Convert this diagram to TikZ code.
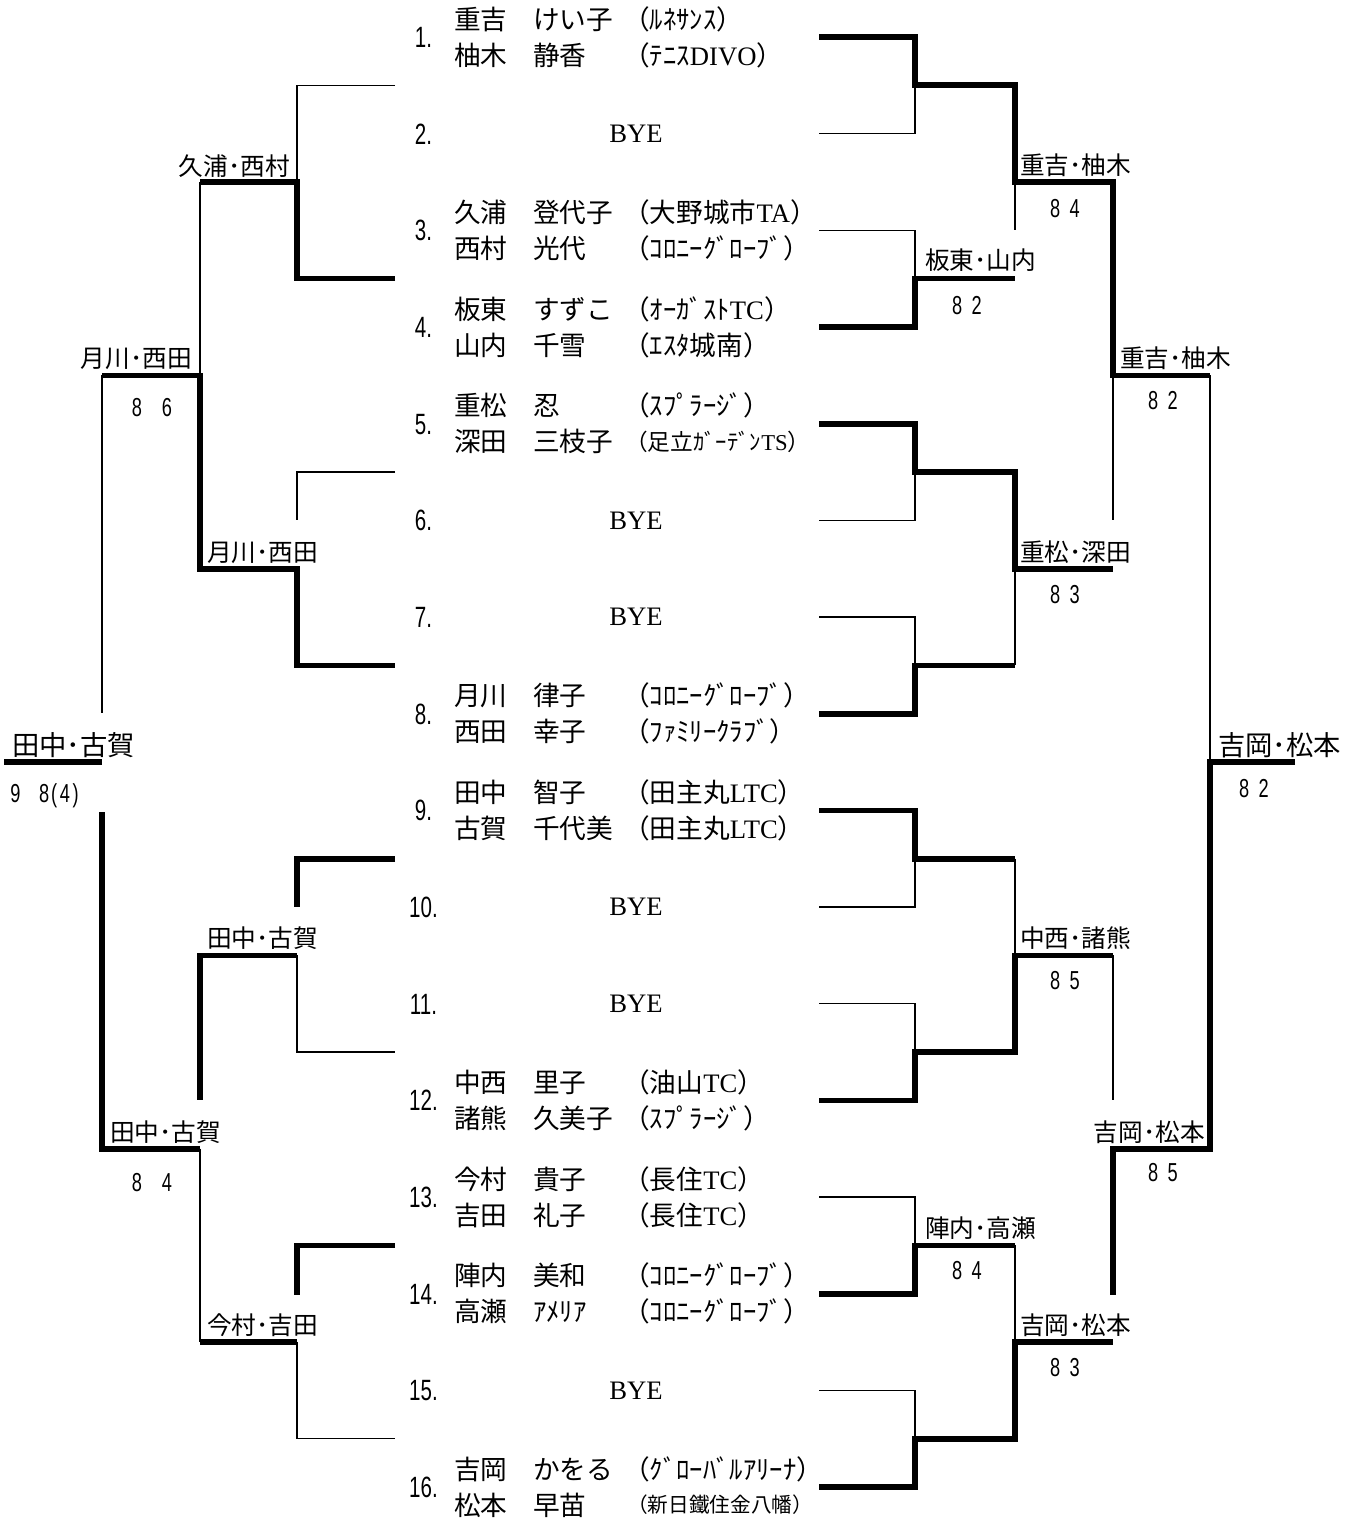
\documentclass[tikz,border=0pt]{standalone}
\usepackage{fontspec}
\setmainfont{Liberation Serif}
\newfontfamily\jp{Noto Sans CJK JP}
\newfontfamily\nsans[FakeStretch=0.7]{Liberation Sans}
\newcommand\lat[1]{{\rmfamily #1}}
\newcommand\cl[1]{（#1）}
\tikzset{
  thk/.style={line width=4.2pt, line join=miter},
  thn/.style={line width=0.8pt},
  nm/.style={font=\jp\fontsize{20}{22}\selectfont, inner sep=0pt, anchor=west, text height=17.6pt, text depth=2.4pt},
  nmsmall/.style={nm, font=\jp\fontsize{17}{19}\selectfont, text height=15pt, text depth=2pt},
  nmtiny/.style={nm, font=\jp\fontsize{15.5}{17}\selectfont, text height=13.6pt, text depth=1.9pt},
  byetxt/.style={font=\rmfamily\fontsize{20}{22}\selectfont, inner sep=0pt, text height=13.2pt, text depth=0pt},
  num/.style={font=\nsans\fontsize{22}{24}\selectfont, inner sep=0pt, text height=15.75pt, text depth=0pt},
  lbl/.style={font=\jp\fontsize{18.5}{20}\selectfont, inner sep=0pt, text height=16.3pt, text depth=2.2pt},
  biglbl/.style={font=\jp\fontsize{20.5}{22}\selectfont, inner sep=0pt, text height=18pt, text depth=2.5pt},
  scr/.style={font=\nsans\fontsize{19.5}{21}\selectfont, inner sep=0pt, text height=14pt, text depth=0pt},
}
% #1 index, #2 y, #3 surname1, #4 given1, #5 club1, #6 surname2, #7 given2, #8 club2
\newcommand\pairentry[8]{%
  \node[num] (num#1) at (423.5,#2) {#1.};
  \node[nm] (sa#1) at (454,#2-18) {#3};
  \node[nm] (ga#1) at (533,#2-18) {#4};
  \node[nm] (ca#1) at (623,#2-18) {#5};
  \node[nm] (sb#1) at (454,#2+18) {#6};
  \node[nm] (gb#1) at (533,#2+18) {#7};
  \node[nm] (cb#1) at (623,#2+18) {#8};
}
\newcommand\byeentry[2]{%
  \node[num] (num#1) at (423.5,#2) {#1.};
  \node[byetxt] (bye#1) at (636,#2) {BYE};
}
\begin{document}
\begin{tikzpicture}[x=0.75pt,y=-0.75pt]
\useasboundingbox (0,0) rectangle (1361,1519);

% ---------------- entries ----------------
\pairentry{1}{37}{重吉}{けい子}{\cl{ﾙﾈｻﾝｽ}}{柚木}{静香}{\cl{ﾃﾆｽ\lat{DIVO}}}
\byeentry{2}{133.7}
\pairentry{3}{230.3}{久浦}{登代子}{\cl{大野城市\lat{TA}}}{西村}{光代}{\cl{ｺﾛﾆｰｸﾞﾛｰﾌﾞ}}
\pairentry{4}{327}{板東}{すずこ}{\cl{ｵｰｶﾞｽﾄ\lat{TC}}}{山内}{千雪}{\cl{ｴｽﾀ城南}}
\node[num] (num5) at (423.5,423.7) {5.};
\node[nm] (sa5) at (454,405.7) {重松};
\node[nm] (ga5) at (533,405.7) {忍};
\node[nm] (ca5) at (623,405.7) {\cl{ｽﾌﾟﾗｰｼﾞ}};
\node[nm] (sb5) at (454,441.7) {深田};
\node[nm] (gb5) at (533,441.7) {三枝子};
\node[nmsmall] (cb5) at (625,441.7) {\cl{足立ｶﾞｰﾃﾞﾝ\lat{TS}}};
\byeentry{6}{520.3}
\byeentry{7}{617}
\pairentry{8}{713.7}{月川}{律子}{\cl{ｺﾛﾆｰｸﾞﾛｰﾌﾞ}}{西田}{幸子}{\cl{ﾌｧﾐﾘｰｸﾗﾌﾞ}}
\pairentry{9}{810.3}{田中}{智子}{\cl{田主丸\lat{LTC}}}{古賀}{千代美}{\cl{田主丸\lat{LTC}}}
\byeentry{10}{907}
\byeentry{11}{1003.7}
\pairentry{12}{1100.3}{中西}{里子}{\cl{油山\lat{TC}}}{諸熊}{久美子}{\cl{ｽﾌﾟﾗｰｼﾞ}}
\pairentry{13}{1197}{今村}{貴子}{\cl{長住\lat{TC}}}{吉田}{礼子}{\cl{長住\lat{TC}}}
\pairentry{14}{1293.7}{陣内}{美和}{\cl{ｺﾛﾆｰｸﾞﾛｰﾌﾞ}}{高瀬}{ｱﾒﾘｱ}{\cl{ｺﾛﾆｰｸﾞﾛｰﾌﾞ}}
\byeentry{15}{1390.3}
\node[num] (num16) at (423.5,1487) {16.};
\node[nm] (sa16) at (454,1469) {吉岡};
\node[nm] (ga16) at (533,1469) {かをる};
\node[nm] (ca16) at (623,1469) {\cl{ｸﾞﾛｰﾊﾞﾙｱﾘｰﾅ}};
\node[nm] (sb16) at (454,1505) {松本};
\node[nm] (gb16) at (533,1505) {早苗};
\node[nmtiny] (cb16) at (627,1505) {\cl{新日鐵住金八幡}};

% ---------------- right bracket ----------------
\draw[thk] (819,37) -- (915,37) -- (915,85.3) -- (1015,85.3) -- (1015,182) -- (1113,182) -- (1113,375.3) -- (1210,375.3);
\draw[thn] (819,133.7) -- (915,133.7) -- (915,85.3);
\draw[thn] (1015,182) -- (1015,230);
\draw[thn] (819,230.3) -- (915,230.3) -- (915,278.7);
\draw[thk] (819,327) -- (915,327) -- (915,278.7) -- (1015,278.7);
\draw[thn] (1113,375.3) -- (1113,520);
\draw[thn] (1210,375.3) -- (1210,762);
\draw[thk] (819,423.7) -- (915,423.7) -- (915,472) -- (1015,472) -- (1015,568.7) -- (1113,568.7);
\draw[thn] (819,520.3) -- (915,520.3) -- (915,472);
\draw[thn] (819,617) -- (915,617) -- (915,665.3);
\draw[thk] (819,713.7) -- (915,713.7) -- (915,665.3) -- (1015,665.3);
\draw[thn] (1015,665.3) -- (1015,568.7);
\draw[thk] (1295,762) -- (1210,762) -- (1210,1148.7) -- (1113,1148.7) -- (1113,1295);
\draw[thk] (819,810.3) -- (915,810.3) -- (915,858.7) -- (1015,858.7);
\draw[thn] (819,907) -- (915,907) -- (915,858.7);
\draw[thn] (1015,858.7) -- (1015,955.3);
\draw[thn] (819,1003.7) -- (915,1003.7) -- (915,1052);
\draw[thk] (819,1100.3) -- (915,1100.3) -- (915,1052) -- (1015,1052) -- (1015,955.3) -- (1113,955.3);
\draw[thn] (1113,955.3) -- (1113,1100);
\draw[thn] (819,1197) -- (915,1197) -- (915,1245.3);
\draw[thk] (819,1293.7) -- (915,1293.7) -- (915,1245.3) -- (1015,1245.3);
\draw[thn] (1015,1245.3) -- (1015,1342);
\draw[thn] (819,1390.3) -- (915,1390.3) -- (915,1438.7);
\draw[thk] (819,1487) -- (915,1487) -- (915,1438.7) -- (1015,1438.7) -- (1015,1342) -- (1113,1342);

% ---------------- left bracket ----------------
\draw[thn] (395,85.3) -- (297,85.3) -- (297,182);
\draw[thk] (395,278.7) -- (297,278.7) -- (297,182) -- (200,182);
\draw[thn] (200,182) -- (200,375.3);
\draw[thk] (102,375.3) -- (200,375.3) -- (200,568.7) -- (297,568.7) -- (297,665.3) -- (395,665.3);
\draw[thn] (395,472) -- (297,472) -- (297,520);
\draw[thn] (102,375.3) -- (102,713);
\draw[thk] (4,762) -- (102,762);
\draw[thk] (102,812) -- (102,1148.7) -- (200,1148.7);
\draw[thk] (395,858.7) -- (297,858.7) -- (297,907);
\draw[thk] (297,955.3) -- (200,955.3) -- (200,1100);
\draw[thn] (297,955.3) -- (297,1052) -- (395,1052);
\draw[thn] (200,1148.7) -- (200,1342);
\draw[thk] (395,1245.3) -- (297,1245.3) -- (297,1295);
\draw[thk] (200,1342) -- (297,1342);
\draw[thn] (297,1342) -- (297,1438.7) -- (395,1438.7);

% ---------------- winner labels and scores: left ----------------
\node[lbl,anchor=east] (wl1) at (290,166) {久浦･西村};
\node[lbl,anchor=east] (wl2) at (192,358) {月川･西田};
\node[scr] (ws1) at (152,407) {8\hspace{15pt}6};
\node[lbl,anchor=west] (wl3) at (207,552) {月川･西田};
\node[biglbl,anchor=west] (wlf) at (12,745) {田中･古賀};
\node[scr,anchor=west] (wsf) at (10,793) {9\hspace{14pt}8\hspace{1.5pt}(\hspace{2pt}4\hspace{2pt})};
\node[lbl,anchor=west] (wl4) at (207,938) {田中･古賀};
\node[lbl,anchor=west] (wl5) at (110,1132) {田中･古賀};
\node[scr] (ws2) at (152,1182) {8\hspace{15pt}4};
\node[lbl,anchor=west] (wl6) at (207,1325) {今村･吉田};

% ---------------- winner labels and scores: right ----------------
\node[lbl,anchor=west] (wr1) at (1020,165) {重吉･柚木};
\node[scr] (sr1) at (1065,208) {8\hspace{7pt}4};
\node[lbl,anchor=west] (wr2) at (925,260) {板東･山内};
\node[scr] (sr2) at (967,305) {8\hspace{7pt}2};
\node[lbl,anchor=west] (wr3) at (1120,358) {重吉･柚木};
\node[scr] (sr3) at (1163,400) {8\hspace{7pt}2};
\node[lbl,anchor=west] (wr4) at (1020,552) {重松･深田};
\node[scr] (sr4) at (1065,594) {8\hspace{7pt}3};
\node[biglbl,anchor=west] (wrf) at (1218,745) {吉岡･松本};
\node[scr] (srf) at (1254,788) {8\hspace{7pt}2};
\node[lbl,anchor=west] (wr5) at (1020,938) {中西･諸熊};
\node[scr] (sr5) at (1065,980) {8\hspace{7pt}5};
\node[lbl,anchor=east] (wr6) at (1205,1132) {吉岡･松本};
\node[scr] (sr6) at (1163,1172) {8\hspace{7pt}5};
\node[lbl,anchor=west] (wr7) at (925,1228) {陣内･高瀬};
\node[scr] (sr7) at (967,1270) {8\hspace{7pt}4};
\node[lbl,anchor=west] (wr8) at (1020,1325) {吉岡･松本};
\node[scr] (sr8) at (1065,1367) {8\hspace{7pt}3};
\end{tikzpicture}
\end{document}
